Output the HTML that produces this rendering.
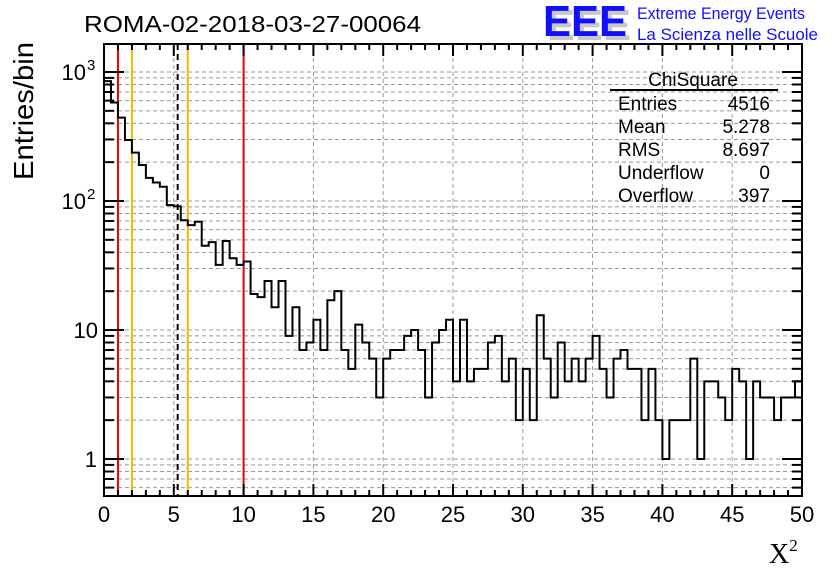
<!DOCTYPE html>
<html><head><meta charset="utf-8"><style>
body{margin:0;background:#fff;}
svg text{font-family:"Liberation Sans",sans-serif;}
</style></head><body>
<svg id="chart" width="836" height="572" xmlns="http://www.w3.org/2000/svg">
<text x="84" y="32" font-size="23" textLength="337" lengthAdjust="spacingAndGlyphs">ROMA-02-2018-03-27-00064</text>
<g>
<text x="547" y="40" font-size="44" font-weight="bold" fill="#c8c8c8" textLength="84" lengthAdjust="spacingAndGlyphs">EEE</text>
<text x="543" y="36" font-size="44" font-weight="bold" fill="#1010ff" textLength="84" lengthAdjust="spacingAndGlyphs">EEE</text>
<text x="637" y="19" font-size="17" fill="#1010ff" textLength="168" lengthAdjust="spacingAndGlyphs">Extreme Energy Events</text>
<text x="637" y="40" font-size="17" fill="#1010ff" textLength="181" lengthAdjust="spacingAndGlyphs">La Scienza nelle Scuole</text>
</g>
<g id="grid"></g>
<g id="marks"></g>
<g id="axes"></g>
<g font-size="19">
<text x="693" y="86" text-anchor="middle">ChiSquare</text>
<line x1="610" y1="90" x2="778" y2="90" stroke="#000" stroke-width="2"/>
<text x="618" y="110">Entries</text><text x="770" y="110" text-anchor="end">4516</text>
<text x="618" y="133">Mean</text><text x="770" y="133" text-anchor="end">5.278</text>
<text x="618" y="156">RMS</text><text x="770" y="156" text-anchor="end">8.697</text>
<text x="618" y="179">Underflow</text><text x="770" y="179" text-anchor="end">0</text>
<text x="618" y="202">Overflow</text><text x="770" y="202" text-anchor="end">397</text>
</g>
<text transform="translate(33,111) rotate(-90)" text-anchor="middle" font-size="28" textLength="138" lengthAdjust="spacingAndGlyphs">Entries/bin</text>
<text x="769" y="563" font-size="28" style="font-family:'Liberation Serif',serif">X<tspan font-size="17" dy="-12">2</tspan></text>
</svg>
<script>
const counts = [850,580,443,297,237,190,151,139,129,93,91,71,65,69,45,48,32,49,36,32,34,19,18,24,15,24,9,15,7,8,12,7,17,20,7,5,11,8,6,3,6,7,7,9,10,7,3,8,10,12,4,12,4,5,5,8,9,4,6,2,5,2,13,6,3,8,4,6,4,6,9,5,3,6,7,5,5,2,5,2,1,2,2,2,6,1,4,4,3,2,5,4,1,4,3,3,2,3,3,4];
const binWidth = [0.5];
const xTicks = [0,5,10,15,20,25,30,35,40,45,50];
const yDecades = [1,10,100,1000];
const redLines = [1,10];
const orangeLines = [2,6];
const meanLine = [5.278];

const X0=104,X1=802,Y0=496,Y1=44;
const xs=v=>X0+(v/50)*(X1-X0);
const ys=v=>459-129*Math.log10(v);
const NS="http://www.w3.org/2000/svg";
function mk(tag,attrs,parent){const e=document.createElementNS(NS,tag);for(const k in attrs)e.setAttribute(k,attrs[k]);parent.appendChild(e);return e;}
const grid=document.getElementById('grid'),marks=document.getElementById('marks'),axes=document.getElementById('axes');
const gs={stroke:'#999','stroke-dasharray':'4,3','stroke-width':1};
xTicks.slice(1,-1).forEach(t=>{mk('line',Object.assign({x1:xs(t),x2:xs(t),y1:Y1,y2:Y0},gs),grid);});
for(let d of [0.1,1,10,100,1000]){for(let m=1;m<10;m++){const v=d*m;const y=ys(v);if(y>Y0||y<Y1)continue;mk('line',Object.assign({x1:X0,x2:X1,y1:y,y2:y},gs),grid);}}
redLines.forEach(v=>{const l=mk('line',{x1:xs(v),x2:xs(v),y1:Y1,y2:Y0,stroke:'#e00','stroke-width':2},marks);

});
orangeLines.forEach(v=>{const l=mk('line',{x1:xs(v),x2:xs(v),y1:Y1,y2:Y0,stroke:'#f5b800','stroke-width':2},marks);

});
meanLine.forEach(v=>{const l=mk('line',{x1:xs(v),x2:xs(v),y1:Y1,y2:Y0,stroke:'#000','stroke-width':2,'stroke-dasharray':'6,4'},marks);

});
let d='';counts.forEach((c,i)=>{const xa=xs(i*binWidth[0]),xb=xs((i+1)*binWidth[0]);const y=Math.min(ys(Math.max(c,0.5)),Y0);d+=(i===0?'M'+xa+','+y:'L'+xa+','+y)+'L'+xb+','+y;});
const h=mk('path',{d:d,fill:'none',stroke:'#000','stroke-width':2},marks);


const fr=mk('rect',{x:X0,y:Y1,width:X1-X0,height:Y0-Y1,fill:'none',stroke:'#000','stroke-width':2},axes);


for(let v=0;v<=50;v++){const L=v%5===0?12:6;mk('line',{x1:xs(v),x2:xs(v),y1:Y0,y2:Y0-L,stroke:'#000','stroke-width':2},axes);mk('line',{x1:xs(v),x2:xs(v),y1:Y1,y2:Y1+L,stroke:'#000','stroke-width':2},axes);}
xTicks.forEach(t=>{const tx=mk('text',{x:xs(t),y:522,'font-size':22,'text-anchor':'middle'},axes);tx.textContent=t;

});
for(let dd of [0.1,1,10,100,1000]){for(let m=1;m<10;m++){const v=dd*m;const y=ys(v);if(y>Y0||y<Y1)continue;const L=m===1?20:10;mk('line',{x1:X0,x2:X0+L,y1:y,y2:y,stroke:'#000','stroke-width':2},axes);mk('line',{x1:X1-L,x2:X1,y1:y,y2:y,stroke:'#000','stroke-width':2},axes);}}
const yl={1:['1',''],10:['10',''],100:['10','2'],1000:['10','3']};
yDecades.forEach(v=>{const t=mk('text',{x:v===1?97:(v===10?98:86),y:ys(v)+8,'font-size':22,'text-anchor':'end'},axes);t.textContent=yl[v][0];


if(yl[v][1]){const s=mk('text',{x:87,y:ys(v)-2,'font-size':15},axes);s.textContent=yl[v][1];}});
</script>
</body></html>
